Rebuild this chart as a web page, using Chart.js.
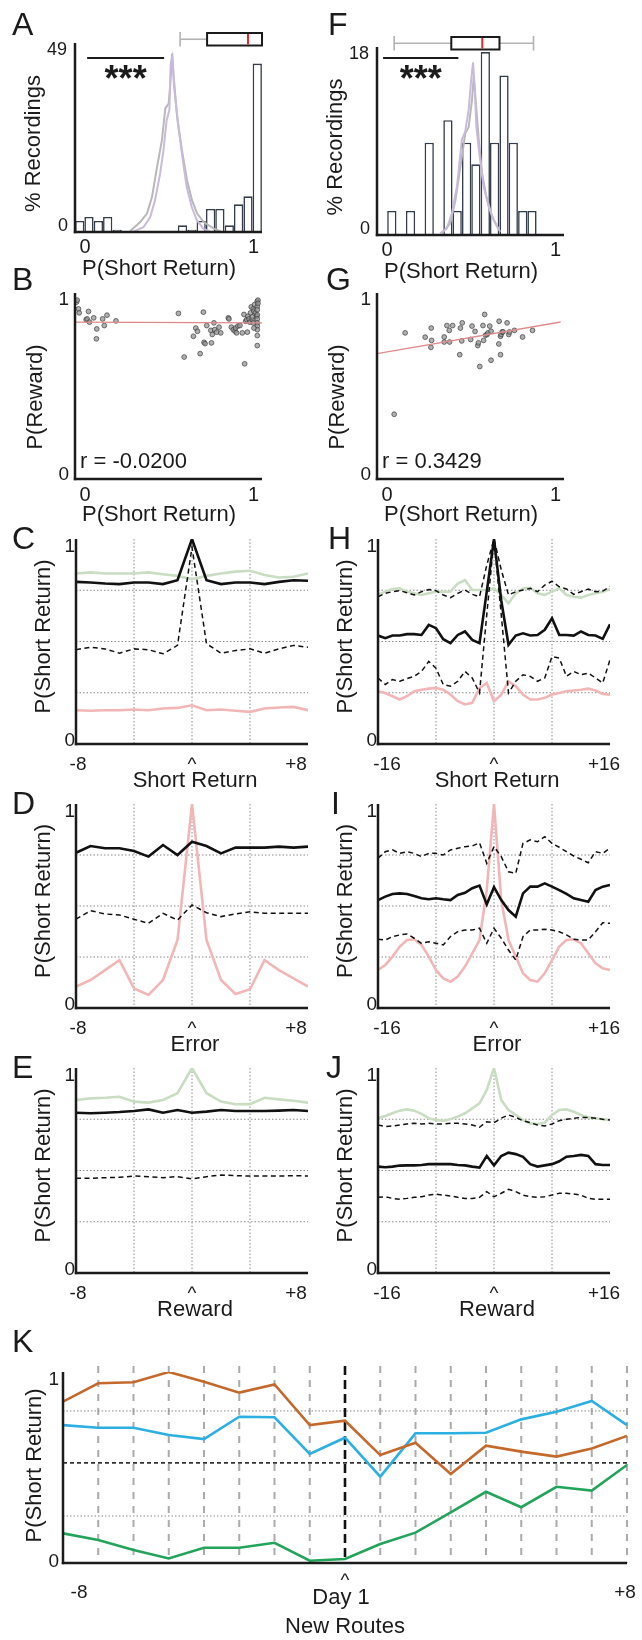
<!DOCTYPE html>
<html>
<head>
<meta charset="utf-8">
<title>P(Short Return)</title>
<script src="https://cdn.jsdelivr.net/npm/chart.js@4.4.1/dist/chart.umd.min.js"></script>
<style>
  body { margin: 0; background: #fff; }
  #figure { position: relative; width: 642px; height: 1640px; overflow: hidden; }
  #figure canvas { position: absolute; left: 0; top: 0; }
</style>
</head>
<body>
<div id="figure"></div>
<script>
// ---------- data ----------

// A / F: histograms of P(short return) per recording (% of recordings)
const binsA = [-0.032, 0.023, 0.079, 0.134, 0.190, 0.245, 0.301, 0.356, 0.412, 0.467,
               0.523, 0.578, 0.634, 0.689, 0.745, 0.800, 0.856, 0.911, 0.967, 1.022];
const pctA = [2.99, 4.08, 2.99, 4.08, 0.64, 0, 0, 0, 0, 0,
              0, 1.81, 0.64, 2.99, 6.26, 6.26, 1.81, 7.53, 9.71, 45.8];
const binsF = [0.028, 0.083, 0.139, 0.194, 0.250, 0.305, 0.361, 0.416,
               0.472, 0.527, 0.583, 0.638, 0.694, 0.749, 0.805, 0.860];
const pctF = [2.36, 0, 2.36, 0, 9.08, 0, 11.3, 2.36, 9.08, 6.95, 18.0, 9.08, 15.7, 9.08, 2.36, 2.36];

// shuffled null distributions
const nullAGreyX = [0.268, 0.327, 0.367, 0.397, 0.427, 0.456, 0.476, 0.496, 0.506, 0.516, 0.526, 0.546, 0.575, 0.605, 0.635, 0.665, 0.704, 0.764, 0.804];
const nullAGreyY = [0.27, 2.7, 5.0, 9.5, 17.7, 25, 33.6, 34.9, 40.4, 48.5, 42.2, 31.3, 22.2, 14.1, 8.6, 5.0, 2.7, 0.9, 0.2];
const nullAPurpleX = [0.287, 0.346, 0.386, 0.415, 0.445, 0.465, 0.484, 0.500, 0.508, 0.518, 0.528, 0.554, 0.580, 0.603, 0.633, 0.663, 0.702, 0.742];
const nullAPurpleY = [0.1, 1.3, 4.0, 8.6, 15.8, 22.2, 30.4, 33.1, 45.8, 47.6, 39.5, 28.6, 19.5, 12.3, 6.8, 3.2, 0.9, 0.1];
const nullFGreyX = [0.325, 0.375, 0.405, 0.435, 0.464, 0.484, 0.504, 0.514, 0.524, 0.544, 0.563, 0.589, 0.623, 0.663];
const nullFGreyY = [0.17, 1.15, 3.4, 6.7, 10.0, 10.6, 13.3, 15.6, 13.6, 9.4, 6.1, 3.8, 1.8, 0.5];
const nullFPurpleX = [0.315, 0.355, 0.385, 0.415, 0.444, 0.464, 0.484, 0.498, 0.510, 0.520, 0.530, 0.550, 0.573, 0.603, 0.633, 0.671];
const nullFPurpleY = [0.17, 0.66, 2.16, 4.8, 9.4, 10.2, 12.3, 15.1, 17.0, 14.5, 10.6, 7.65, 4.75, 2.79, 1.47, 0.33];

// box plots: low whisker, q1, median, q3, high whisker
const boxA = [0.564, 0.724, 0.967, 1.05, 1.05];
const boxF = [0.042, 0.381, 0.565, 0.667, 0.869];
const sigA = [0.012, 0.469];
const sigF = [-0.024, 0.423];

// B / G: P(reward) against P(short return), one point per recording
const shortB = [-0.051, -0.047, -0.039, -0.035, 0.006, 0.012, 0.020, 0.026, 0.051, 0.069, 0.067, 0.104, 0.114, 0.130, 0.183,
                0.554, 0.588, 0.643, 0.657, 0.667, 0.683, 0.702, 0.706, 0.712, 0.722, 0.746, 0.750, 0.755, 0.765, 0.769,
                0.781, 0.795, 0.805, 0.850, 0.854, 0.868, 0.880, 0.890, 0.893, 0.899, 0.907, 0.919, 0.933, 0.943, 0.947,
                0.953, 0.959, 0.963, 0.967, 0.973, 0.978, 0.982, 0.986, 0.992, 0.998, 1.002, 1.006, 1.012, 1.018,
                1.022, 1.022, 1.022, 1.022, 1.022, 1.022, 1.022, 1.022, 1.022, 1.022, 1.026, 1.026, 0.998, 1.002, 0.992];
const rewardB = [0.989, 1.000, 0.951, 0.929, 0.891, 0.895, 0.937, 0.877, 0.901, 0.839, 0.784, 0.895, 0.858, 0.916, 0.884,
                 0.926, 0.682, 0.798, 0.844, 0.826, 0.701, 0.933, 0.764, 0.757, 0.858, 0.831, 0.761, 0.808, 0.873, 0.835,
                 0.821, 0.849, 0.817, 0.901, 0.895, 0.849, 0.835, 0.826, 0.844, 0.817, 0.855, 0.858, 0.817, 0.920, 0.644,
                 0.882, 0.891, 0.821, 0.910, 0.895, 0.877, 0.929, 0.962, 0.891, 0.951, 0.938, 0.975, 0.929, 0.910,
                 0.993, 0.964, 0.946, 0.918, 0.895, 0.873, 0.855, 0.835, 0.802, 0.746, 1.000, 0.982, 0.873, 0.844, 0.906];
const shortG = [0.042, 0.107, 0.226, 0.262, 0.264, 0.260, 0.339, 0.339, 0.355, 0.369, 0.371, 0.389, 0.431, 0.435, 0.443,
                0.446, 0.496, 0.504, 0.522, 0.538, 0.542, 0.550, 0.569, 0.573, 0.579, 0.585, 0.593, 0.599, 0.609, 0.617,
                0.617, 0.663, 0.665, 0.673, 0.673, 0.677, 0.683, 0.688, 0.712, 0.722, 0.726, 0.756, 0.804, 0.863];
const rewardG = [0.362, 0.817, 0.793, 0.844, 0.775, 0.736, 0.794, 0.766, 0.858, 0.831, 0.766, 0.858, 0.695, 0.844, 0.772,
                 0.873, 0.780, 0.855, 0.825, 0.746, 0.761, 0.629, 0.858, 0.775, 0.920, 0.804, 0.808, 0.817, 0.855, 0.664,
                 0.826, 0.755, 0.882, 0.695, 0.798, 0.808, 0.822, 0.823, 0.873, 0.808, 0.822, 0.831, 0.794, 0.831];
const fitB = { slope: -0.004, intercept: 0.877, from: -0.06, to: 1.05 };
const fitG = { slope: 0.162, intercept: 0.711, from: -0.06, to: 1.03 };

// C-J: P(short return) around an event, lags in trials
const lags8 = [-8, -7, -6, -5, -4, -3, -2, -1, 0, 1, 2, 3, 4, 5, 6, 7, 8];
const lags16 = [-16, -15, -14, -13, -12, -11, -10, -9, -8, -7, -6, -5, -4, -3, -2, -1, 0,
                1, 2, 3, 4, 5, 6, 7, 8, 9, 10, 11, 12, 13, 14, 15, 16];

const cSolid = [0.791, 0.788, 0.783, 0.780, 0.788, 0.788, 0.780, 0.799, 1.0, 0.799, 0.780, 0.788, 0.788, 0.780, 0.791, 0.799, 0.796];
const cDashed = [0.460, 0.472, 0.464, 0.443, 0.464, 0.460, 0.440, 0.481, 0.96, 0.489, 0.443, 0.456, 0.464, 0.443, 0.464, 0.481, 0.472];
const cGreen = [0.832, 0.837, 0.832, 0.832, 0.832, 0.837, 0.828, 0.820, 0.804, 0.820, 0.832, 0.841, 0.845, 0.824, 0.812, 0.816, 0.832];
const cRed = [0.165, 0.162, 0.165, 0.165, 0.168, 0.165, 0.173, 0.176, 0.189, 0.165, 0.168, 0.162, 0.157, 0.173, 0.178, 0.181, 0.165];

const dSolid = [0.761, 0.794, 0.783, 0.783, 0.770, 0.742, 0.799, 0.750, 0.815, 0.794, 0.758, 0.786, 0.786, 0.786, 0.791, 0.786, 0.791];
const dDashed = [0.436, 0.477, 0.461, 0.456, 0.435, 0.415, 0.464, 0.431, 0.505, 0.467, 0.448, 0.461, 0.472, 0.464, 0.464, 0.464, 0.464];
const dRed = [0.105, 0.137, 0.186, 0.235, 0.096, 0.064, 0.137, 0.333, 1.0, 0.333, 0.137, 0.069, 0.092, 0.235, 0.186, 0.145, 0.105];

const eSolid = [0.782, 0.779, 0.782, 0.785, 0.790, 0.798, 0.782, 0.795, 0.782, 0.787, 0.795, 0.790, 0.790, 0.790, 0.792, 0.795, 0.790];
const eDashed = [0.462, 0.462, 0.465, 0.467, 0.473, 0.470, 0.465, 0.470, 0.459, 0.470, 0.478, 0.475, 0.473, 0.473, 0.473, 0.475, 0.473];
const eGreen = [0.844, 0.852, 0.855, 0.860, 0.836, 0.831, 0.844, 0.877, 1.0, 0.877, 0.836, 0.823, 0.824, 0.855, 0.847, 0.840, 0.831];

const hSolid = [0.529, 0.516, 0.529, 0.529, 0.536, 0.536, 0.532, 0.581, 0.565, 0.511, 0.492, 0.532, 0.549, 0.508, 0.492, 0.743, 1.0,
                0.700, 0.484, 0.529, 0.540, 0.529, 0.532, 0.557, 0.613, 0.532, 0.532, 0.529, 0.549, 0.532, 0.529, 0.513, 0.584];
const hUpper = [0.718, 0.735, 0.743, 0.748, 0.738, 0.727, 0.743, 0.754, 0.748, 0.727, 0.714, 0.735, 0.751, 0.730, 0.718, 0.872, 1.0,
                0.850, 0.727, 0.743, 0.751, 0.759, 0.743, 0.775, 0.794, 0.767, 0.756, 0.730, 0.743, 0.756, 0.743, 0.746, 0.767];
const hLower = [0.322, 0.290, 0.314, 0.306, 0.319, 0.330, 0.354, 0.403, 0.370, 0.290, 0.282, 0.306, 0.354, 0.322, 0.249, 0.630, 1.0,
                0.630, 0.249, 0.306, 0.338, 0.330, 0.306, 0.322, 0.427, 0.419, 0.330, 0.354, 0.338, 0.346, 0.322, 0.298, 0.411];
const hGreen = [0.727, 0.743, 0.756, 0.759, 0.743, 0.735, 0.727, 0.735, 0.743, 0.743, 0.743, 0.783, 0.799, 0.751, 0.751, 0.751, 0.759,
                0.727, 0.686, 0.735, 0.759, 0.762, 0.735, 0.727, 0.743, 0.759, 0.727, 0.718, 0.714, 0.727, 0.735, 0.743, 0.756];
const hRed = [0.257, 0.249, 0.233, 0.217, 0.233, 0.257, 0.265, 0.270, 0.273, 0.265, 0.241, 0.209, 0.193, 0.201, 0.273, 0.298, 0.209,
              0.241, 0.306, 0.282, 0.241, 0.217, 0.217, 0.225, 0.241, 0.249, 0.257, 0.261, 0.265, 0.270, 0.261, 0.244, 0.241];

const iUpper = [0.734, 0.766, 0.775, 0.758, 0.766, 0.758, 0.742, 0.758, 0.758, 0.750, 0.775, 0.783, 0.791, 0.794, 0.810, 0.709, 0.791,
                0.742, 0.668, 0.660, 0.807, 0.824, 0.815, 0.840, 0.807, 0.788, 0.766, 0.745, 0.729, 0.712, 0.766, 0.758, 0.783];
const iSolid = [0.529, 0.546, 0.559, 0.562, 0.559, 0.549, 0.538, 0.533, 0.538, 0.533, 0.529, 0.554, 0.565, 0.587, 0.600, 0.508, 0.592,
                0.529, 0.480, 0.448, 0.562, 0.595, 0.595, 0.611, 0.595, 0.578, 0.559, 0.538, 0.529, 0.521, 0.578, 0.595, 0.603];
const iLower = [0.337, 0.333, 0.350, 0.358, 0.363, 0.342, 0.317, 0.325, 0.317, 0.309, 0.350, 0.374, 0.382, 0.382, 0.391, 0.317, 0.391,
                0.342, 0.284, 0.235, 0.350, 0.382, 0.382, 0.386, 0.382, 0.374, 0.358, 0.337, 0.333, 0.333, 0.374, 0.418, 0.415];
const iRed = [0.186, 0.211, 0.252, 0.301, 0.333, 0.337, 0.309, 0.252, 0.186, 0.145, 0.129, 0.154, 0.203, 0.268, 0.333, 0.578, 1.0,
              0.529, 0.333, 0.252, 0.170, 0.137, 0.129, 0.170, 0.235, 0.301, 0.333, 0.337, 0.317, 0.268, 0.219, 0.195, 0.186];

const jGreen = [0.755, 0.766, 0.779, 0.792, 0.798, 0.792, 0.776, 0.755, 0.746, 0.743, 0.750, 0.763, 0.779, 0.803, 0.828, 0.893, 1.0,
                0.844, 0.795, 0.771, 0.746, 0.730, 0.727, 0.733, 0.771, 0.795, 0.798, 0.787, 0.771, 0.759, 0.755, 0.750, 0.746];
const jUpper = [0.722, 0.714, 0.717, 0.722, 0.727, 0.730, 0.727, 0.730, 0.727, 0.727, 0.730, 0.730, 0.727, 0.722, 0.711, 0.738, 0.733,
                0.755, 0.771, 0.759, 0.743, 0.733, 0.722, 0.717, 0.727, 0.743, 0.750, 0.755, 0.759, 0.759, 0.755, 0.750, 0.746];
const jSolid = [0.519, 0.516, 0.519, 0.524, 0.525, 0.525, 0.527, 0.531, 0.531, 0.531, 0.531, 0.527, 0.525, 0.519, 0.514, 0.571, 0.525,
                0.571, 0.587, 0.580, 0.567, 0.531, 0.519, 0.525, 0.531, 0.545, 0.567, 0.571, 0.576, 0.571, 0.531, 0.527, 0.527];
const jLower = [0.369, 0.372, 0.364, 0.360, 0.364, 0.369, 0.372, 0.380, 0.385, 0.380, 0.376, 0.369, 0.364, 0.364, 0.369, 0.397, 0.372,
                0.389, 0.408, 0.397, 0.380, 0.372, 0.369, 0.372, 0.380, 0.389, 0.389, 0.385, 0.380, 0.364, 0.360, 0.360, 0.360];

// K: P(short return) per day around the switch to new routes
const kDays = [-8, -7, -6, -5, -4, -3, -2, -1, 0, 1, 2, 3, 4, 5, 6, 7, 8];
const kOrange = [0.845, 0.941, 0.946, 1.0, 0.949, 0.892, 0.935, 0.722, 0.745, 0.565, 0.630, 0.466, 0.614, 0.583, 0.557, 0.600, 0.665];
const kBlue = [0.722, 0.708, 0.708, 0.670, 0.649, 0.766, 0.763, 0.571, 0.656, 0.452, 0.679, 0.679, 0.682, 0.752, 0.792, 0.848, 0.722];
const kGreen = [0.155, 0.120, 0.068, 0.024, 0.080, 0.080, 0.106, 0.012, 0.021, 0.099, 0.159, 0.265, 0.373, 0.292, 0.399, 0.379, 0.513];
const kLevels = [0.796, 0.524, 0.246];

const quarters = [0.25, 0.5, 0.75];

// ---------- helpers ----------

const FONT = '"Liberation Sans", Arial, Helvetica, sans-serif';
const INK = '#1b1b1b';
const DOT = '#8a8a8a';
const figure = document.getElementById('figure');

function pts(xs, ys) {
    return xs.map((x, i) => ({ x: x, y: ys[i] }));
}

function write(ctx, str, x, y, o) {
    o = o || {};
    ctx.save();
    ctx.font = (o.weight || 'normal') + ' ' + (o.size || 19) + 'px ' + FONT;
    ctx.fillStyle = INK;
    ctx.textAlign = o.align || 'center';
    ctx.textBaseline = o.base || 'middle';
    ctx.translate(x, y);
    if (o.rotate) ctx.rotate(-Math.PI / 2);
    ctx.fillText(str, 0, 0);
    ctx.restore();
}

function stroke(ctx, x1, y1, x2, y2, color, width, dash) {
    ctx.save();
    ctx.strokeStyle = color;
    ctx.lineWidth = width;
    ctx.setLineDash(dash || []);
    ctx.beginPath();
    ctx.moveTo(x1, y1);
    ctx.lineTo(x2, y2);
    ctx.stroke();
    ctx.restore();
}

function axes(c) {
    const a = c.chartArea;
    stroke(c.ctx, a.left, a.top, a.left, a.bottom + 1.2, INK, 2.5);
    stroke(c.ctx, a.left - 1.2, a.bottom, a.right, a.bottom, INK, 2.5);
}

function panel(frame, xr, yr, type, datasets, decor, xExtra) {
    const canvas = document.createElement('canvas');
    canvas.width = 642;
    canvas.height = 1640;
    figure.appendChild(canvas);
    return new Chart(canvas, {
        type: type,
        data: { datasets: datasets },
        options: {
            responsive: false,
            animation: false,
            events: [],
            layout: { padding: { left: frame[0], top: frame[1], right: 642 - frame[2], bottom: 1640 - frame[3] } },
            plugins: { legend: { display: false }, tooltip: { enabled: false } },
            elements: { point: { radius: 0 }, line: { tension: 0 } },
            scales: {
                x: Object.assign({ type: 'linear', display: false, offset: false, min: xr[0], max: xr[1] }, xExtra || {}),
                y: { type: 'linear', display: false, min: yr[0], max: yr[1] }
            }
        },
        plugins: [{
            id: 'decor',
            beforeDatasetsDraw: c => { if (decor.under) decor.under(c); },
            afterDatasetsDraw: c => decor.over(c)
        }]
    });
}

// ---------- A and F: histograms ----------

function histDecor(o) {
    return {
        over(c) {
            const a = c.chartArea, ctx = c.ctx, sx = c.scales.x;
            axes(c);
            write(ctx, o.top, a.left - 8, a.top + 7, { size: 18, align: 'right' });
            write(ctx, '0', a.left - 7, a.bottom - 6, { size: 18, align: 'right' });
            write(ctx, '0', sx.getPixelForValue(0), a.bottom + 15, { size: 20 });
            write(ctx, '1', sx.getPixelForValue(1), a.bottom + 15, { size: 20 });
            write(ctx, 'P(Short Return)', a.left + 84, a.bottom + 37, { size: 22 });
            write(ctx, '% Recordings', a.left - 41, (a.top + a.bottom) / 2 + 6, { size: 22, rotate: true });
            write(ctx, o.letter, o.letterX, 35, { size: 32, align: 'left', base: 'alphabetic' });

            // box plot over the top of the axes
            const b = o.box.map(v => sx.getPixelForValue(v));
            const y0 = a.top - 10, y1 = a.top + 2.5, ym = (y0 + y1) / 2;
            stroke(ctx, b[0], ym, b[1], ym, '#b3b3b3', 1.6);
            stroke(ctx, b[0], y0 - 1, b[0], y1 + 1, '#b3b3b3', 1.6);
            if (b[4] > b[3] + 1) {
                stroke(ctx, b[3], ym, b[4], ym, '#b3b3b3', 1.6);
                stroke(ctx, b[4], y0 - 1, b[4], y1 + 1, '#b3b3b3', 1.6);
            }
            ctx.save();
            ctx.fillStyle = '#fff';
            ctx.fillRect(b[1], y0, b[3] - b[1], y1 - y0);
            ctx.strokeStyle = INK;
            ctx.lineWidth = 2;
            ctx.strokeRect(b[1], y0, b[3] - b[1], y1 - y0);
            ctx.restore();
            stroke(ctx, b[2], y0 + 1, b[2], y1 - 1, '#e3262b', 2);

            // significance against the null
            const s0 = sx.getPixelForValue(o.sig[0]), s1 = sx.getPixelForValue(o.sig[1]);
            stroke(ctx, s0, 58, s1, 58, INK, 2.2);
            write(ctx, '***', (s0 + s1) / 2, 91, { size: 36, weight: 'bold', base: 'alphabetic' });
        }
    };
}

function histSets(bins, pct, greyX, greyY, purpleX, purpleY) {
    return [
        { type: 'line', data: pts(purpleX, purpleY), borderColor: '#c9b9dc', borderWidth: 2 },
        { type: 'line', data: pts(greyX, greyY), borderColor: '#b8b8b8', borderWidth: 2 },
        {
            type: 'bar', data: pts(bins, pct),
            backgroundColor: '#ffffff', borderColor: '#333d4b', borderWidth: 1.6,
            barPercentage: 1, categoryPercentage: 1, inflateAmount: 0
        }
    ];
}

const histX = { ticks: { includeBounds: false, stepSize: 1 } };

panel([75, 43, 262, 232], [-0.06, 1.05], [0, 51.4], 'bar',
    histSets(binsA, pctA, nullAGreyX, nullAGreyY, nullAPurpleX, nullAPurpleY),
    histDecor({ top: '49', letter: 'A', letterX: 12, box: boxA, sig: sigA }), histX);

panel([377, 47, 564, 235], [-0.06, 1.05], [0, 18.5], 'bar',
    histSets(binsF, pctF, nullFGreyX, nullFGreyY, nullFPurpleX, nullFPurpleY),
    histDecor({ top: '18', letter: 'F', letterX: 328, box: boxF, sig: sigF }), histX);

// ---------- B and G: reward vs short return ----------

function fitLine(f) {
    return [
        { x: f.from, y: f.intercept + f.slope * f.from },
        { x: f.to, y: f.intercept + f.slope * f.to }
    ];
}

function scatterSets(xs, ys, fit) {
    return [
        { data: fitLine(fit), borderColor: '#de8a8a', borderWidth: 1.3 },
        {
            data: pts(xs, ys), showLine: false, pointRadius: 2.4,
            pointBackgroundColor: 'rgba(150,150,150,0.75)', pointBorderColor: 'rgba(55,55,55,0.85)', pointBorderWidth: 0.8
        }
    ];
}

function scatterDecor(o) {
    return {
        over(c) {
            const a = c.chartArea, ctx = c.ctx, sx = c.scales.x;
            axes(c);
            write(ctx, '1', a.left - 6, a.top + 7, { size: 19, align: 'right' });
            write(ctx, '0', a.left - 6, a.bottom - 4, { size: 19, align: 'right' });
            write(ctx, '0', sx.getPixelForValue(0), a.bottom + 16, { size: 20 });
            write(ctx, '1', sx.getPixelForValue(1), a.bottom + 16, { size: 20 });
            write(ctx, 'P(Short Return)', a.left + 84, a.bottom + 36, { size: 22 });
            write(ctx, 'P(Reward)', a.left - 39, (a.top + a.bottom) / 2 + 11, { size: 22, rotate: true });
            write(ctx, o.r, a.left + 5, a.bottom - 17, { size: 22, align: 'left' });
            write(ctx, o.letter, o.letterX, 290, { size: 32, align: 'left', base: 'alphabetic' });
        }
    };
}

panel([75, 293, 262, 479], [-0.06, 1.05], [0, 1.04], 'line',
    scatterSets(shortB, rewardB, fitB), scatterDecor({ r: 'r = -0.0200', letter: 'B', letterX: 12 }));
panel([377, 293, 564, 479], [-0.06, 1.05], [0, 1.04], 'line',
    scatterSets(shortG, rewardG, fitG), scatterDecor({ r: 'r = 0.3429', letter: 'G', letterX: 326 }));

// ---------- C-J: event-triggered averages ----------

const STYLE = {
    solid: { borderColor: '#111', borderWidth: 2.6 },
    dashed: { borderColor: '#111', borderWidth: 1.5, borderDash: [5, 3.5] },
    green: { borderColor: '#c8ddc1', borderWidth: 2.6 },
    red: { borderColor: '#f3b6b6', borderWidth: 2.6 }
};

function series(lags, ys, kind) {
    return Object.assign({ data: pts(lags, ys) }, STYLE[kind]);
}

function lagDecor(o) {
    return {
        under(c) {
            const a = c.chartArea, ctx = c.ctx;
            o.gridX.forEach(v => {
                const px = c.scales.x.getPixelForValue(v);
                stroke(ctx, px, a.top, px, a.bottom, DOT, 1, [1.5, 2]);
            });
            quarters.forEach(v => {
                const py = c.scales.y.getPixelForValue(v);
                stroke(ctx, a.left, py, a.right, py, DOT, 1, [1.5, 2]);
            });
        },
        over(c) {
            const a = c.chartArea, ctx = c.ctx;
            axes(c);
            write(ctx, '1', a.left - 1, a.top + 8, { size: 19, align: 'right' });
            write(ctx, '0', a.left - 1, a.bottom - 3, { size: 19, align: 'right' });
            const ty = a.bottom + 21;
            write(ctx, o.ends[0], a.left + o.inset[0], ty, { size: 19 });
            write(ctx, '^', c.scales.x.getPixelForValue(0), ty, { size: 19 });
            write(ctx, o.ends[1], a.right - o.inset[1], ty, { size: 19 });
            write(ctx, o.title, (a.left + a.right) / 2 + 3, a.bottom + 37, { size: 22 });
            write(ctx, 'P(Short Return)', a.left - 32, (a.top + a.bottom) / 2 - 5, { size: 22, rotate: true });
            write(ctx, o.letter, o.letterX, a.top + 10, { size: 32, align: 'left', base: 'alphabetic' });
        }
    };
}

function leftDecor(letter, title) {
    return lagDecor({ letter: letter, title: title, letterX: 12, gridX: [-4, 0, 4], ends: ['-8', '+8'], inset: [2, 12] });
}
function rightDecor(letter, title, letterX) {
    return lagDecor({ letter: letter, title: title, letterX: letterX, gridX: [-8, 0, 8], ends: ['-16', '+16'], inset: [9, 6] });
}

panel([76, 539, 308, 744], [-8, 8], [0, 1], 'line', [
    series(lags8, cSolid, 'solid'), series(lags8, cDashed, 'dashed'),
    series(lags8, cGreen, 'green'), series(lags8, cRed, 'red')
], leftDecor('C', 'Short Return'));

panel([76, 804, 308, 1008], [-8, 8], [0, 1], 'line', [
    series(lags8, dSolid, 'solid'), series(lags8, dDashed, 'dashed'), series(lags8, dRed, 'red')
], leftDecor('D', 'Error'));

panel([76, 1068, 308, 1273], [-8, 8], [0, 1], 'line', [
    series(lags8, eSolid, 'solid'), series(lags8, eDashed, 'dashed'), series(lags8, eGreen, 'green')
], leftDecor('E', 'Reward'));

panel([378, 539, 610, 744], [-16, 16], [0, 1], 'line', [
    series(lags16, hSolid, 'solid'), series(lags16, hUpper, 'dashed'), series(lags16, hLower, 'dashed'),
    series(lags16, hGreen, 'green'), series(lags16, hRed, 'red')
], rightDecor('H', 'Short Return', 328));

panel([378, 804, 610, 1008], [-16, 16], [0, 1], 'line', [
    series(lags16, iSolid, 'solid'), series(lags16, iUpper, 'dashed'), series(lags16, iLower, 'dashed'),
    series(lags16, iRed, 'red')
], rightDecor('I', 'Error', 331));

panel([378, 1068, 610, 1273], [-16, 16], [0, 1], 'line', [
    series(lags16, jSolid, 'solid'), series(lags16, jUpper, 'dashed'), series(lags16, jLower, 'dashed'),
    series(lags16, jGreen, 'green')
], rightDecor('J', 'Reward', 326));

// ---------- K: days around new routes ----------

panel([63, 1372, 627, 1563], [-8, 8], [0, 1], 'line', [
    { data: pts(kDays, kOrange), borderColor: '#c4692c', borderWidth: 2.6 },
    { data: pts(kDays, kBlue), borderColor: '#2cb0e2', borderWidth: 2.6 },
    { data: pts(kDays, kGreen), borderColor: '#22a45b', borderWidth: 2.6 }
], {
    under(c) {
        const a = c.chartArea, ctx = c.ctx, sx = c.scales.x, sy = c.scales.y;
        kDays.forEach(d => {
            if (d === kDays[0] || d === 0) return;
            const px = sx.getPixelForValue(d);
            stroke(ctx, px, a.top - 6, px, a.bottom, '#ababab', 2, [7, 7]);
        });
        stroke(ctx, a.left, sy.getPixelForValue(kLevels[0]), a.right, sy.getPixelForValue(kLevels[0]), DOT, 1, [1.5, 2]);
        stroke(ctx, a.left, sy.getPixelForValue(kLevels[2]), a.right, sy.getPixelForValue(kLevels[2]), DOT, 1, [1.5, 2]);
        stroke(ctx, a.left, sy.getPixelForValue(kLevels[1]), a.right, sy.getPixelForValue(kLevels[1]), '#333', 1.6, [4, 3]);
        const p0 = sx.getPixelForValue(0);
        stroke(ctx, p0, a.top - 6, p0, a.bottom, '#111', 2.6, [9, 5]);
    },
    over(c) {
        const a = c.chartArea, ctx = c.ctx, sx = c.scales.x;
        axes(c);
        write(ctx, '1', a.left - 4, a.top + 8, { size: 19, align: 'right' });
        write(ctx, '0', a.left - 4, a.bottom - 1, { size: 19, align: 'right' });
        write(ctx, '-8', a.left + 16, a.bottom + 30, { size: 19 });
        write(ctx, '^', sx.getPixelForValue(0), a.bottom + 18, { size: 19 });
        write(ctx, 'Day 1', sx.getPixelForValue(0) - 4, a.bottom + 35, { size: 22 });
        write(ctx, '+8', a.right - 2, a.bottom + 30, { size: 19 });
        write(ctx, 'New Routes', sx.getPixelForValue(0), a.bottom + 64, { size: 22 });
        write(ctx, 'P(Short Return)', a.left - 28, (a.top + a.bottom) / 2 - 2, { size: 22, rotate: true });
        write(ctx, 'K', 12, 1352, { size: 32, align: 'left', base: 'alphabetic' });
    }
});
</script>
</body>
</html>
